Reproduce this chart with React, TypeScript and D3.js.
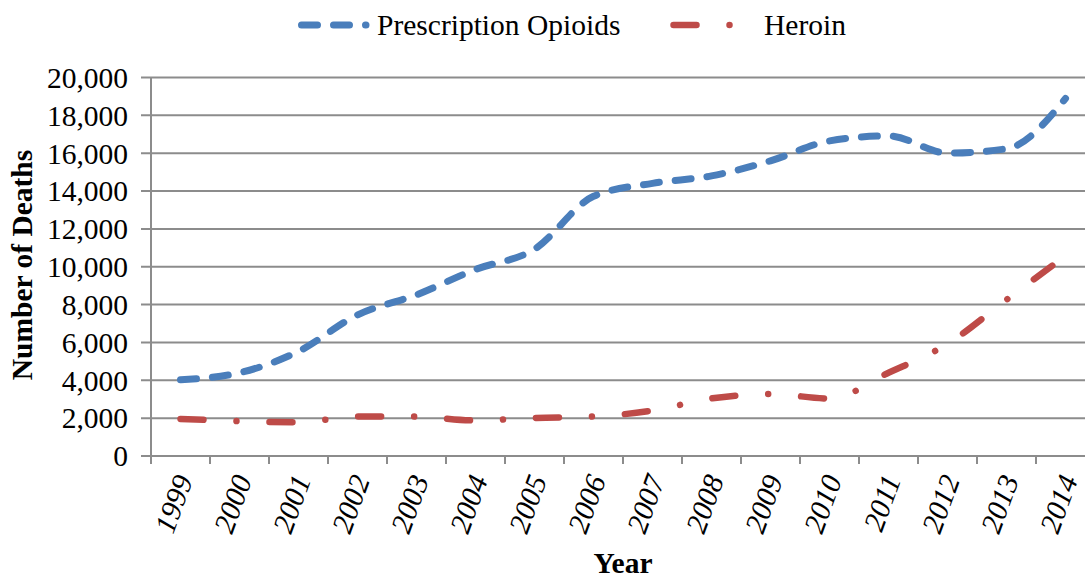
import * as d3 from "d3";

const years = ["1999", "2000", "2001", "2002", "2003", "2004", "2005", "2006", "2007", "2008", "2009", "2010", "2011", "2012", "2013", "2014"];
const opioids = [4030, 4400, 5528, 7456, 8517, 9857, 10928, 13723, 14408, 14800, 15597, 16651, 16917, 16007, 16235, 18893];
const heroin = [1960, 1842, 1779, 2089, 2080, 1878, 2009, 2088, 2399, 3041, 3278, 3036, 4397, 5925, 8257, 10574];
const yTicks = [0, 2000, 4000, 6000, 8000, 10000, 12000, 14000, 16000, 18000, 20000];

const BLUE = "#4a7ebb";
const RED = "#be4b48";
const GRID = "#8c8c8c";
const FONT = "'Liberation Serif', 'Times New Roman', serif";
const FS = 29.5;

export default function App() {
  const width = 1085,
    height = 578;
  const left = 151,
    right = 1095,
    top = 77.5,
    bottom = 456;

  const x = d3.scaleBand().domain(years).range([left, right]);
  const y = d3.scaleLinear().domain([0, 20000]).range([bottom, top]);
  const cx = (yr: string) => (x(yr) ?? 0) + x.bandwidth() / 2;

  const line = d3
    .line<number>()
    .x((_, i) => cx(years[i]))
    .y((d) => y(d))
    .curve(d3.curveMonotoneX);

  // category boundaries for x tick marks
  const bounds = d3.range(years.length + 1).map((i) => left + i * x.bandwidth());

  return (
    <div style={{ position: "absolute", left: 0, top: 0 }}>
      <svg width={width} height={height} style={{ display: "block", background: "#fff" }}>
        {/* gridlines */}
        {yTicks.map((t) => (
          <g key={t}>
            <line x1={left - 10} x2={right} y1={y(t)} y2={y(t)} stroke={GRID} strokeWidth={2} />
            <text x={128} y={y(t)} dy="0.35em" textAnchor="end" fontFamily={FONT} fontSize={FS}>
              {d3.format(",")(t)}
            </text>
          </g>
        ))}
        {/* y axis */}
        <line x1={left} x2={left} y1={top} y2={bottom} stroke={GRID} strokeWidth={2} />
        {/* x ticks */}
        {bounds.map((b, i) => (
          <line key={i} x1={b} x2={b} y1={bottom} y2={bottom + 8} stroke={GRID} strokeWidth={2} />
        ))}
        {years.map((yr) => (
          <text
            key={yr}
            transform={`translate(${cx(yr) + 3},${bottom + 20}) rotate(-70)`}
            textAnchor="end"
            dy="0.35em"
            fontFamily={FONT}
            fontSize={FS}
            fontStyle="italic"
          >
            {yr}
          </text>
        ))}

        {/* series */}
        <path
          d={line(opioids) ?? ""}
          fill="none"
          stroke={BLUE}
          strokeWidth={7}
          strokeLinecap="round"
          strokeDasharray="16 16"
        />
        <path
          d={line(heroin) ?? ""}
          fill="none"
          stroke={RED}
          strokeWidth={6.5}
          strokeLinecap="round"
          strokeDasharray="23 33 0.01 33"
        />

        {/* legend */}
        <line x1={301.5} x2={366} y1={25} y2={25} stroke={BLUE} strokeWidth={7} strokeLinecap="round" strokeDasharray="16 16" />
        <text x={377} y={25} dy="0.35em" fontFamily={FONT} fontSize={FS}>
          Prescription Opioids
        </text>
        <line x1={673.5} x2={730} y1={25} y2={25} stroke={RED} strokeWidth={6.5} strokeLinecap="round" strokeDasharray="23 33 0.01 33" />
        <text x={764} y={25} dy="0.35em" fontFamily={FONT} fontSize={FS}>
          Heroin
        </text>

        {/* axis titles */}
        <text
          transform={`translate(32,265) rotate(-90)`}
          textAnchor="middle"
          fontFamily={FONT}
          fontSize={FS}
          fontWeight="bold"
        >
          Number of Deaths
        </text>
        <text x={623} y={573} textAnchor="middle" fontFamily={FONT} fontSize={FS} fontWeight="bold">
          Year
        </text>
      </svg>
    </div>
  );
}
